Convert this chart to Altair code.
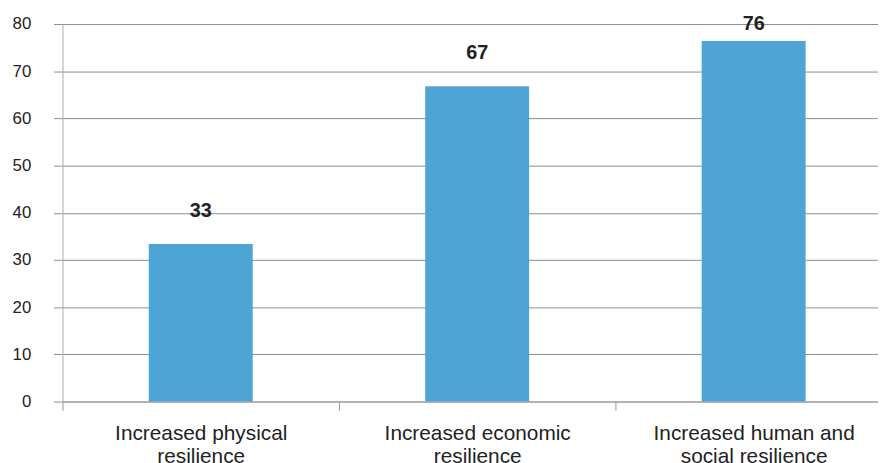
import altair as alt
import pandas as pd

categories = [
    "Increased physical|resilience",
    "Increased economic|resilience",
    "Increased human and|social resilience",
]
values = [33.4, 66.8, 76.4]

df = pd.DataFrame({"category": categories, "value": values})

FONT = "Liberation Sans, Arial, Helvetica, sans-serif"

x_enc = alt.X(
    "category:N",
    sort=None,
    title=None,
    scale=alt.Scale(paddingInner=0, paddingOuter=0),
    axis=alt.Axis(
        labelExpr="split(datum.label, '|')",
        labelAngle=0,
        labelFontSize=21,
        labelFont=FONT,
        labelColor="#222222",
        labelLineHeight=24,
        labelPadding=12,
        tickBand="extent",
        tickSize=9,
        tickColor="#999999",
        domainColor="#aaaaaa",
        labelLimit=400,
    ),
)

y_scale = alt.Scale(domain=[0, 80], nice=False)

bars = alt.Chart(df).mark_bar(
    color="#4FA4D6", width=alt.RelativeBandSize(0.376)
).encode(
    x=x_enc,
    y=alt.Y(
        "value:Q",
        scale=y_scale,
        title=None,
        axis=alt.Axis(
            values=[0, 10, 20, 30, 40, 50, 60, 70, 80],
            grid=True,
            gridColor="#8c8c8c",
            gridWidth=1,
            tickSize=9,
            tickColor="#8c8c8c",
            domainColor="#bbbbbb",
            labelFontSize=17,
            labelFont=FONT,
            labelColor="#222222",
            labelPadding=23,
        ),
    ),
)

labels = alt.Chart(df).transform_calculate(
    pos="min(datum.value + 7, 80)",
    txt="format(datum.value, '.0f')",
).mark_text(
    fontSize=20, fontWeight="bold", font=FONT, color="#222222", baseline="middle"
).encode(
    x=alt.X("category:N", sort=None),
    y=alt.Y("pos:Q", scale=y_scale),
    text="txt:N",
)

chart = (
    alt.layer(bars, labels)
    .properties(
        width=837,
        height=381,
        autosize=alt.AutoSizeParams(type="none"),
        padding={"left": 55, "top": 14, "right": -14, "bottom": 70},
    )
    .configure_view(stroke=None)
    .configure(background="white")
)

chart.save("out.html", embed_options={"renderer": "svg", "actions": False})
